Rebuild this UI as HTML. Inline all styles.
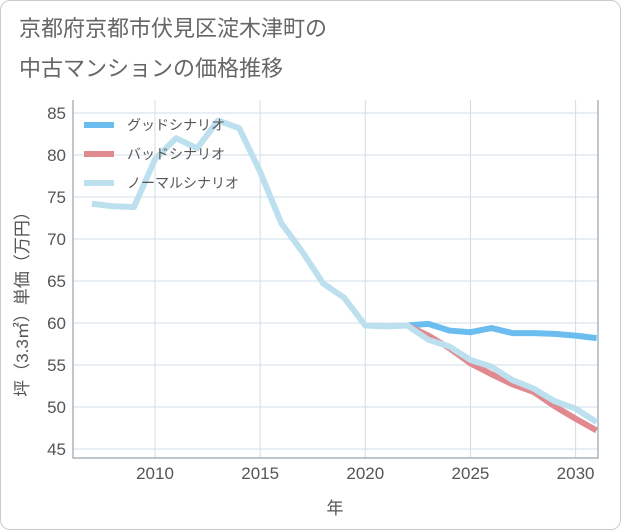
<!DOCTYPE html>
<html><head><meta charset="utf-8"><style>
body{margin:0;background:#fff;font-family:"Liberation Sans","Noto Sans CJK JP",sans-serif}
#wrap{position:relative;width:619px;height:528px;border:1px solid #ccc;border-radius:10px;overflow:hidden}
.t{position:absolute;left:18px;font-size:22px;color:#666;line-height:28px}
</style></head><body>
<div id="wrap">
<div class="t" style="top:14px">京都府京都市伏見区淀木津町の</div>
<div class="t" style="top:54px">中古マンションの価格推移</div>
<svg id="c" width="621" height="530" style="position:absolute;left:-1px;top:-1px"></svg>
</div>
<script>
const years=[2007,2008,2009,2010,2011,2012,2013,2014,2015,2016,2017,2018,2019,2020,2021,2022,2023,2024,2025,2026,2027,2028,2029,2030,2031];
const normal=[74.2,73.9,73.8,79.5,82,80.8,84.1,83.2,78,71.9,68.5,64.7,63,59.7,59.6,59.7,58,57.2,55.6,54.8,53.2,52.2,50.7,49.8,48.2];
const futureYears=[2022,2023,2024,2025,2026,2027,2028,2029,2030,2031];
const good=[59.7,59.9,59.1,58.9,59.4,58.8,58.8,58.7,58.5,58.2];
const bad=[59.7,58.5,57.0,55.2,53.9,52.7,51.8,50.1,48.6,47.2];
const yTicks=[45,50,55,60,65,70,75,80,85];
const xTicks=[2010,2015,2020,2025,2030];
const NS="http://www.w3.org/2000/svg",svg=document.getElementById('c');
const X=y=>155+(y-2010)*21.03, Y=v=>449-(v-45)*8.4;
const L=73,R=598,T=100,B=458;
function mk(t,a,p){const e=document.createElementNS(NS,t);for(const k in a)e.setAttribute(k,a[k]);(p||svg).appendChild(e);return e;}
yTicks.forEach(v=>{
 const g=mk('line',{x1:L,x2:R,y1:Y(v),y2:Y(v),stroke:'#cfdde8','stroke-width':1});
 
 
 const t=mk('text',{x:66,y:Y(v)+6,'text-anchor':'end','font-size':17,fill:'#555'});
 t.textContent=v;
 
 
});
xTicks.forEach(v=>{
 const g=mk('line',{x1:X(v),x2:X(v),y1:T,y2:B,stroke:'#cfdde8','stroke-width':1});
 
 
 const t=mk('text',{x:X(v),y:479,'text-anchor':'middle','font-size':17,fill:'#555'});
 t.textContent=v;
 
 
});
const ax=mk('path',{d:`M${L} ${T}V${B}H${R}V${T}`,fill:'none',stroke:'#aab4bd','stroke-width':1.5});


function line(xs,vs,color,name){
 const p=mk('polyline',{points:xs.map((x,i)=>X(x)+','+Y(vs[i])).join(' '),fill:'none',stroke:color,'stroke-width':6,'stroke-linejoin':'round'});
 
 
}
line(futureYears,good,'#6bbdf0','good-scenario-line');
line(futureYears,bad,'#e08a90','bad-scenario-line');
line(years,normal,'#bde0ee','normal-scenario-line');
const leg=[['グッドシナリオ','#6bbdf0',125],['バッドシナリオ','#e08a90',154],['ノーマルシナリオ','#bde0ee',183]];
leg.forEach(l=>{
 const ln=mk('line',{x1:84,x2:114,y1:l[2],y2:l[2],stroke:l[1],'stroke-width':6});
 
 
 const t=mk('text',{x:127,y:l[2]+5,'font-size':14,fill:'#555'});
 t.textContent=l[0];
 
 
});
const xt=mk('text',{x:335,y:514,'text-anchor':'middle','font-size':17,fill:'#555'});
xt.textContent='年';


const yt=mk('text',{x:0,y:0,'text-anchor':'middle','font-size':17,fill:'#555',transform:'translate(28,300) rotate(-90)'});
yt.textContent='坪（3.3㎡）単価（万円）';


</script>
</body></html>
